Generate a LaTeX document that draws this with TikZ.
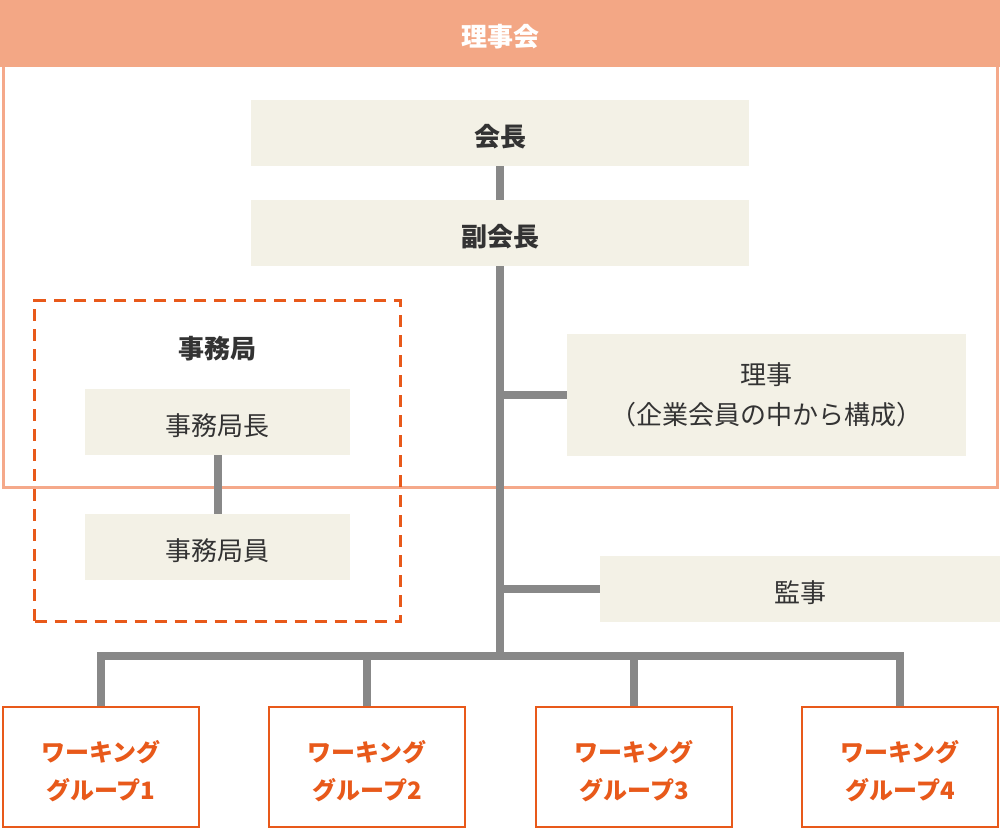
\documentclass[tikz,border=0pt]{standalone}
\usepackage{fontspec}
\setmainfont{Noto Sans CJK JP}
\definecolor{hdr}{HTML}{F3A785}
\definecolor{bord}{HTML}{F5A98A}
\definecolor{beige}{HTML}{F3F1E6}
\definecolor{conn}{HTML}{888888}
\definecolor{accent}{HTML}{E8591A}
\definecolor{txt}{HTML}{333333}
\begin{document}
\begin{tikzpicture}[x=1pt,y=-1pt,
  box/.style={fill=beige, draw=none, inner sep=0pt, text=txt, align=center,
    font=\fontsize{26}{40}\selectfont},
  oneline/.style={text height=26pt, text depth=0pt},
  boldbox/.style={box, oneline, font=\fontsize{26}{40}\selectfont\bfseries},
  wide/.style={minimum width=498pt, minimum height=66pt},
  small/.style={minimum width=265pt, minimum height=66pt},
  wg/.style={draw=accent, line width=2pt, fill=white, inner sep=0pt, text=accent, align=center,
    minimum width=196pt, minimum height=120pt, text height=65pt, text depth=0pt,
    font=\fontsize{24}{38}\selectfont\bfseries},
  link/.style={draw=conn, line width=8pt, line join=miter},
  dashbox/.style={draw=accent, line width=3pt, dash pattern=on 12pt off 8pt, inner sep=0pt}
]
\useasboundingbox (0,0) rectangle (1000,830);
% outer council frame
\draw[bord, line width=3.5pt] (3.5,60) rectangle (997.5,487.5);
\node[fill=hdr, inner sep=0pt, minimum width=1000pt, minimum height=67pt, text=white, oneline,
  font=\fontsize{26}{30}\selectfont\bfseries] (rijikai) at (500,33.5) {理事会};
% secretariat
\node[dashbox, minimum width=365.5pt, minimum height=320.5pt] (jimukyoku) at (217.25,460.75) {};
\node[text=txt, inner sep=0pt, font=\fontsize{26}{30}\selectfont\bfseries] (jimulabel) at (217,349) {事務局};
% boxes
\node[boldbox, wide] (pres) at (500,133) {会長};
\node[boldbox, wide] (vp) at (500,233) {副会長};
\node[box, minimum width=399pt, minimum height=122pt] (riji) at (766.5,395) {理事\\（企業会員の中から構成）};
\node[box, oneline, minimum width=400pt, minimum height=66pt] (kanji) at (800,589) {監事};
\node[box, oneline, small] (jkc) at (217.5,422) {事務局長};
\node[box, oneline, small] (jki) at (217.5,547) {事務局員};
% working groups
\node[wg] (wg1) at (101,767) {ワーキング\\グループ1};
\node[wg] (wg2) at (367,767) {ワーキング\\グループ2};
\node[wg] (wg3) at (634,767) {ワーキング\\グループ3};
\node[wg] (wg4) at (900,767) {ワーキング\\グループ4};
% connectors
\coordinate (hub) at (500,656);
\draw[link] (pres) -- (vp);
\draw[link] (vp.south) -- (hub);
\draw[link] (riji.west) -- (riji.west -| hub);
\draw[link] (kanji.west) -- (kanji.west -| hub);
\draw[link] (wg1.north) |- (hub) -| (wg4.north);
\draw[link] (wg2.north) -- (wg2.north |- hub);
\draw[link] (wg3.north) -- (wg3.north |- hub);
\draw[link] (jkc) -- (jki);
\end{tikzpicture}
\end{document}
